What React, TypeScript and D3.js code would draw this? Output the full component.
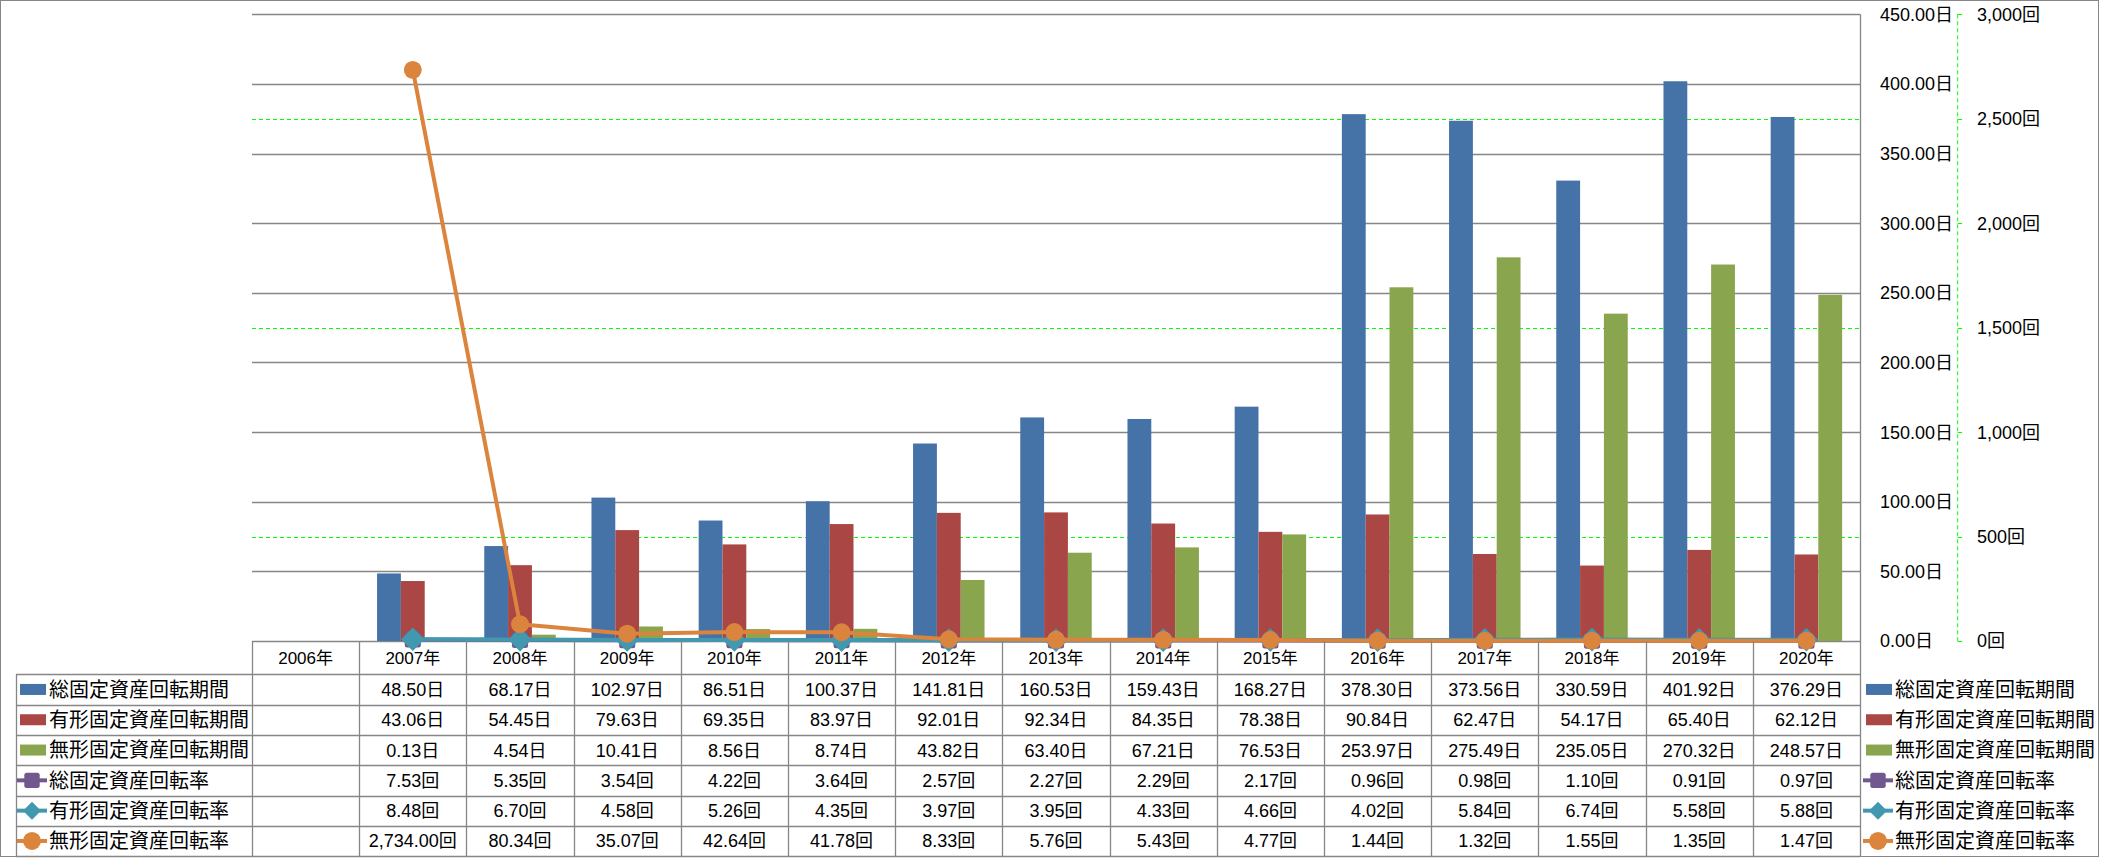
import React from 'react';
import * as d3 from 'd3';

const years = ['2006年','2007年','2008年','2009年','2010年','2011年','2012年','2013年','2014年','2015年','2016年','2017年','2018年','2019年','2020年'];

const totalPeriod = [null, 48.50, 68.17, 102.97, 86.51, 100.37, 141.81, 160.53, 159.43, 168.27, 378.30, 373.56, 330.59, 401.92, 376.29];
const tangiblePeriod = [null, 43.06, 54.45, 79.63, 69.35, 83.97, 92.01, 92.34, 84.35, 78.38, 90.84, 62.47, 54.17, 65.40, 62.12];
const intangiblePeriod = [null, 0.13, 4.54, 10.41, 8.56, 8.74, 43.82, 63.40, 67.21, 76.53, 253.97, 275.49, 235.05, 270.32, 248.57];
const totalRate = [null, 7.53, 5.35, 3.54, 4.22, 3.64, 2.57, 2.27, 2.29, 2.17, 0.96, 0.98, 1.10, 0.91, 0.97];
const tangibleRate = [null, 8.48, 6.70, 4.58, 5.26, 4.35, 3.97, 3.95, 4.33, 4.66, 4.02, 5.84, 6.74, 5.58, 5.88];
const intangibleRate = [null, 2734.00, 80.34, 35.07, 42.64, 41.78, 8.33, 5.76, 5.43, 4.77, 1.44, 1.32, 1.55, 1.35, 1.47];

const periodTicks = [0, 50, 100, 150, 200, 250, 300, 350, 400, 450];
const rateTicks = [0, 500, 1000, 1500, 2000, 2500, 3000];

const barSeries = [
  { name: '総固定資産回転期間', values: totalPeriod, color: '#4572A7' },
  { name: '有形固定資産回転期間', values: tangiblePeriod, color: '#AA4643' },
  { name: '無形固定資産回転期間', values: intangiblePeriod, color: '#89A54E' },
];
const lineSeries = [
  { name: '総固定資産回転率', values: totalRate, color: '#71588F', marker: 'square' },
  { name: '有形固定資産回転率', values: tangibleRate, color: '#4198AF', marker: 'diamond' },
  { name: '無形固定資産回転率', values: intangibleRate, color: '#DB843D', marker: 'circle' },
];

const W = 2101, H = 858;
const PL = 252, PR = 1860, PT = 14.3, PB = 641;
const GRID = '#868686';
const NUM_FONT = '"Liberation Sans", "Noto Sans CJK JP", sans-serif';
const CJK_FONT = '"Noto Sans CJK JP", "Liberation Sans", sans-serif';

function Marker({ type, cx, cy, color, s }: { type: string; cx: number; cy: number; color: string; s: number }) {
  if (type === 'circle') return <circle cx={cx} cy={cy} r={s * 0.78} fill={color} />;
  if (type === 'diamond') {
    const r = s;
    return <path d={`M${cx},${cy - r}L${cx + r},${cy}L${cx},${cy + r}L${cx - r},${cy}Z`} fill={color} />;
  }
  const h = s * 0.7;
  return <rect x={cx - h} y={cy - h} width={2 * h} height={2 * h} rx={2.5} fill={color} />;
}

export default function App() {
  const x = d3.scaleBand<string>().domain(years).range([PL, PR]).padding(0);
  const bw = x.bandwidth();
  const groupW = (bw * 3) / 4.5;
  const xs = d3.scaleBand<number>().domain([0, 1, 2]).range([0, groupW]).padding(0);
  const y1 = d3.scaleLinear().domain([0, 450]).range([PB, PT]);
  const y2 = d3.scaleLinear().domain([0, 3000]).range([PB, PT]);
  const cx = (i: number) => (x(years[i]) as number) + bw / 2;

  const fmtDay = (v: number) => d3.format('.2f')(v) + '日';
  const fmtRate = (v: number) => d3.format(',.2f')(v) + '回';

  const headerTop = PB;
  const rowTop0 = 674.3;
  const rowH = 30.3;
  const tableBottom = rowTop0 + rowH * 6;
  const rows = [
    ...barSeries.map((s) => ({ name: s.name, color: s.color, kind: 'bar', marker: '', cells: s.values.map((v) => (v == null ? '' : fmtDay(v))) })),
    ...lineSeries.map((s) => ({ name: s.name, color: s.color, kind: 'line', marker: s.marker, cells: s.values.map((v) => (v == null ? '' : fmtRate(v))) })),
  ];

  const lineGen = d3
    .line<[number, number]>()
    .x((d) => d[0])
    .y((d) => d[1]);

  const legendKey = (kind: string, marker: string, color: string, x0: number, cy: number) =>
    kind === 'bar' ? (
      <rect x={x0 + 3} y={cy - 5.5} width={26} height={11} fill={color} />
    ) : (
      <g>
        <line x1={x0} x2={x0 + 30} y1={cy} y2={cy} stroke={color} strokeWidth={4} />
        <Marker type={marker} cx={x0 + 15} cy={cy} color={color} s={marker === 'diamond' ? 9 : marker === 'circle' ? 11.5 : 11} />
      </g>
    );

  return (
    <svg width={W} height={H} style={{ position: 'fixed', left: 0, top: 0, background: '#fff' }}>
      <rect x={0} y={0} width={W} height={H} fill="#fff" />
      <rect x={0.5} y={0.5} width={2098} height={856} fill="none" stroke={GRID} strokeWidth={1} />

      {/* secondary gridlines (green dashed) */}
      {rateTicks.map((t) => (
        <line key={'g2' + t} x1={PL} x2={PR} y1={Math.round(y2(t)) + 0.5} y2={Math.round(y2(t)) + 0.5} stroke="#00FF00" strokeWidth={1} strokeDasharray="4,3" />
      ))}
      {/* primary gridlines */}
      {periodTicks.map((t) => (
        <line key={'g1' + t} x1={PL} x2={PR} y1={Math.round(y1(t)) + 0.5} y2={Math.round(y1(t)) + 0.5} stroke={GRID} strokeWidth={1.3} />
      ))}
      {/* primary axis line at right of plot */}
      <line x1={PR + 0.5} x2={PR + 0.5} y1={PT} y2={PB} stroke={GRID} strokeWidth={1.3} />

      {/* bars */}
      {barSeries.map((s, si) =>
        s.values.map((v, i) =>
          v == null ? null : (
            <rect
              key={s.name + i}
              x={cx(i) - groupW / 2 + (xs(si) as number)}
              y={y1(v)}
              width={xs.bandwidth()}
              height={PB - y1(v)}
              fill={s.color}
            />
          )
        )
      )}

      {/* lines */}
      {lineSeries.map((s) => {
        const pts = s.values.map((v, i) => (v == null ? null : [cx(i), y2(v)] as [number, number])).filter(Boolean) as [number, number][];
        return (
          <g key={s.name}>
            <path d={lineGen(pts) || ''} fill="none" stroke={s.color} strokeWidth={4} strokeLinejoin="round" />
            {pts.map((p, i) => (
              <Marker key={i} type={s.marker} cx={p[0]} cy={p[1]} color={s.color} s={s.marker === 'diamond' ? 11.8 : s.marker === 'circle' ? 11.5 : 11.5} />
            ))}
          </g>
        );
      })}

      {/* primary axis labels (left aligned) */}
      {periodTicks.map((t) => (
        <text key={'l1' + t} x={1880} y={y1(t)} dy="0.36em" fontFamily={NUM_FONT} fontSize={18} fill="#000">
          {d3.format('.2f')(t) + '日'}
        </text>
      ))}
      {/* secondary axis */}
      <line x1={1957.7} x2={1957.7} y1={PT} y2={PB} stroke="#00FF00" strokeWidth={1} strokeDasharray="4,3" />
      {rateTicks.map((t) => (
        <g key={'l2' + t}>
          <line x1={1957.7} x2={1962} y1={Math.round(y2(t)) + 0.5} y2={Math.round(y2(t)) + 0.5} stroke="#00FF00" strokeWidth={1} />
          <text x={1977} y={y2(t)} dy="0.36em" fontFamily={NUM_FONT} fontSize={18} fill="#000">
            {d3.format(',')(t) + '回'}
          </text>
        </g>
      ))}

      {/* data table */}
      <g>
        {years.map((yr, i) => (
          <text key={'h' + yr} x={cx(i)} y={(headerTop + rowTop0) / 2} dy="0.36em" textAnchor="middle" fontFamily={NUM_FONT} fontSize={17} fill="#000">
            {yr}
          </text>
        ))}
        {/* vertical lines */}
        {[...years.map((yr) => x(yr) as number), PR].map((vx, i) => (
          <line key={'v' + i} x1={Math.round(vx) + 0.5} x2={Math.round(vx) + 0.5} y1={headerTop} y2={tableBottom} stroke={GRID} strokeWidth={1.3} />
        ))}
        <line x1={16.5} x2={16.5} y1={rowTop0} y2={tableBottom} stroke={GRID} strokeWidth={1.3} />
        {d3.range(7).map((r) => (
          <line key={'hr' + r} x1={16} x2={PR} y1={Math.round(rowTop0 + r * rowH) + 0.5} y2={Math.round(rowTop0 + r * rowH) + 0.5} stroke={GRID} strokeWidth={1.3} />
        ))}
        {rows.map((row, r) => {
          const cy = rowTop0 + rowH * r + rowH / 2;
          return (
            <g key={'row' + r}>
              {legendKey(row.kind, row.marker, row.color, 17, cy)}
              <text x={49} y={cy} dy="0.36em" fontFamily={CJK_FONT} fontSize={20} fill="#000">
                {row.name}
              </text>
              {row.cells.map((c, i) => (
                <text key={i} x={cx(i)} y={cy} dy="0.36em" textAnchor="middle" fontFamily={NUM_FONT} fontSize={18} fill="#000">
                  {c}
                </text>
              ))}
              {legendKey(row.kind, row.marker, row.color, 1863, cy)}
              <text x={1895} y={cy} dy="0.36em" fontFamily={CJK_FONT} fontSize={20} fill="#000">
                {row.name}
              </text>
            </g>
          );
        })}
      </g>
    </svg>
  );
}
